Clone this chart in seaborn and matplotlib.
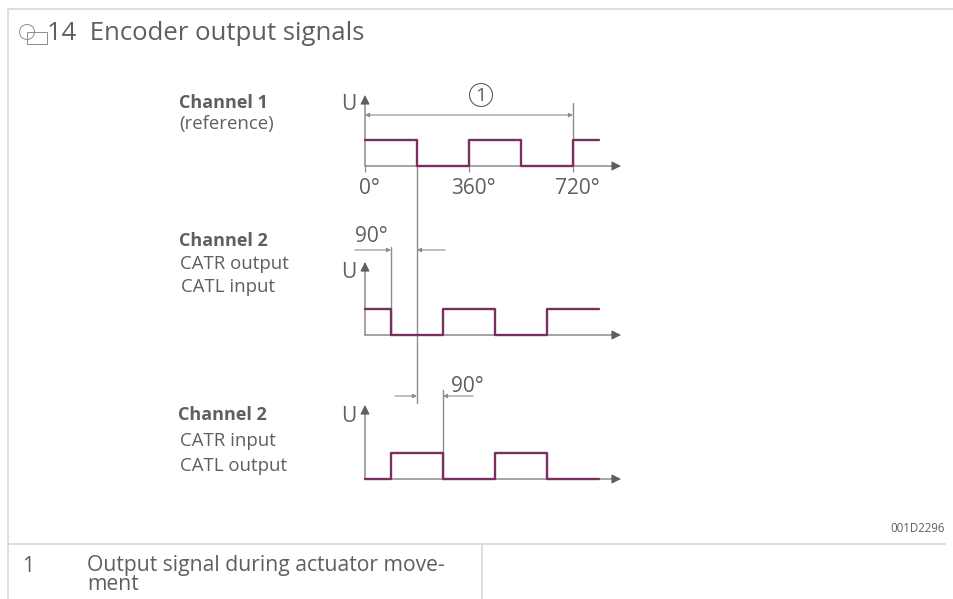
import matplotlib
matplotlib.use('Agg')
import matplotlib.pyplot as plt
from matplotlib.patches import Circle, Rectangle
from matplotlib.transforms import ScaledTranslation
import pandas as pd
import seaborn as sns

W, H = 954, 599
DEG_PX = 52 / 180
X0 = 365

title = '14  Encoder output signals'
angles_ref = [0, 180, 360, 540, 720, 810]
levels_ref = [1, 0, 1, 0, 1, 1]
angles_ch2 = [0, 90, 270, 450, 630, 810]
levels_ch2_out = [1, 0, 1, 0, 1, 1]
levels_ch2_in = [0, 1, 0, 1, 0, 0]
tick_angles = [0, 360, 720]
tick_labels = ['0°', '360°', '720°']

SIGNAL = '#7a2f5f'
TEXT = '#5f5f5f'
LINE = '#8c8c8c'
FRAME = '#d8d8d8'
FS_CAPTION = 13.4
FS_LABEL = 15

sns.set_theme(style='white')
plt.rcParams['font.family'] = ['Open Sans', 'Noto Sans', 'DejaVu Sans']

fig = plt.figure(figsize=(W / 100, H / 100), dpi=100)

# overlay in pixel coordinates for frame, labels and dimension lines
bg = fig.add_axes([0, 0, 1, 1])
bg.set_xlim(0, W)
bg.set_ylim(H, 0)
bg.axis('off')


def px(angle):
    return X0 + angle * DEG_PX


def signal_axes(angles, levels, y_low, y_top):
    # one axes per channel, 1 unit of level = 26 px
    right = 621
    ax = fig.add_axes([X0 / W, (H - y_low) / H, (right - X0) / W, (y_low - y_top) / H])
    ax.patch.set_alpha(0)
    ax.set_xlim(0, (right - X0) / DEG_PX)
    ax.set_ylim(0, (y_low - y_top) / 26)
    df = pd.DataFrame({'angle': angles, 'level': levels})
    sns.lineplot(data=df, x='angle', y='level', drawstyle='steps-post', color=SIGNAL,
                 linewidth=1.7, ax=ax, errorbar=None, estimator=None, clip_on=False, zorder=5)
    for s in ax.spines.values():
        s.set_visible(False)
    ax.set_xlabel('')
    ax.set_ylabel('')
    ax.set_yticks([])
    ax.set_xticks([])
    top = (y_low - y_top) / 26
    ax.annotate('', xy=(0, top), xytext=(0, 0),
                arrowprops=dict(arrowstyle='-|>', color=TEXT, lw=0.8, shrinkA=0, shrinkB=0, mutation_scale=14))
    ax.annotate('', xy=(ax.get_xlim()[1], 0), xytext=(0, 0),
                arrowprops=dict(arrowstyle='-|>', color=TEXT, lw=0.8, shrinkA=0, shrinkB=0, mutation_scale=14))
    return ax


ax1 = signal_axes(angles_ref, levels_ref, 166, 95)
ax1.set_xticks(tick_angles)
ax1.set_xticklabels(tick_labels, fontsize=FS_LABEL, color=TEXT)
ax1.tick_params(axis='x', length=4, width=0.8, color=LINE, pad=5, bottom=True)
shift = ScaledTranslation(3 / 72, 0, fig.dpi_scale_trans)
for lab in ax1.get_xticklabels():
    lab.set_transform(lab.get_transform() + shift)
signal_axes(angles_ch2, levels_ch2_out, 335, 262)
signal_axes(angles_ch2, levels_ch2_in, 479, 405)

# frame and table rules
bg.plot([8, 8], [H, 9], color=FRAME, lw=1.2)
bg.plot([8, W], [9, 9], color=FRAME, lw=1.2)
bg.plot([8, 945], [544, 544], color=FRAME, lw=1.2)
bg.plot([482, 482], [544, H], color=FRAME, lw=1.2)

# figure icon
bg.add_patch(Circle((27, 32), 7.5, fill=False, ec=LINE, lw=0.7))
bg.add_patch(Rectangle((27, 32), 20, 12, fill=False, ec=LINE, lw=0.7))

bg.text(47, 34, title, fontsize=18.5, color=TEXT, va='center', ha='left')

# channel captions
bg.text(179, 103, 'Channel 1', fontsize=13, color=TEXT, weight='bold', va='center')
bg.text(179, 124, '(reference)', fontsize=FS_CAPTION, color=TEXT, va='center')
bg.text(179, 241, 'Channel 2', fontsize=13, color=TEXT, weight='bold', va='center')
bg.text(180, 264, 'CATR output', fontsize=FS_CAPTION, color=TEXT, va='center')
bg.text(181, 287, 'CATL input', fontsize=FS_CAPTION, color=TEXT, va='center')
bg.text(178, 415, 'Channel 2', fontsize=13, color=TEXT, weight='bold', va='center')
bg.text(180, 441, 'CATR input', fontsize=FS_CAPTION, color=TEXT, va='center')
bg.text(180, 466, 'CATL output', fontsize=FS_CAPTION, color=TEXT, va='center')
for y in [103, 272, 415]:
    bg.text(349, y + 1, 'U', fontsize=FS_LABEL, color=TEXT, va='center', ha='center')

# reference verticals
bg.plot([px(180)] * 2, [166, 403], color=LINE, lw=1)
bg.plot([px(720)] * 2, [103, 166], color=LINE, lw=1)
bg.plot([px(90)] * 2, [247, 335], color=LINE, lw=1)
bg.plot([px(270)] * 2, [390, 479], color=LINE, lw=1)


def dim(x_from, x_to, y, style='-|>'):
    bg.annotate('', xy=(x_to, y), xytext=(x_from, y),
                arrowprops=dict(arrowstyle=style, color=LINE, lw=0.8, shrinkA=0, shrinkB=0, mutation_scale=6))


dim(px(0), px(720), 115, '<|-|>')
dim(355, px(90), 250)
dim(445, px(180), 250)
dim(395, px(180), 396)
dim(473, px(270), 396)

bg.add_patch(Circle((481, 95), 11.5, fill=False, ec=TEXT, lw=0.8))
bg.text(481, 96, '1', fontsize=FS_LABEL - 1, color=TEXT, ha='center', va='center')
bg.text(371, 236, '90°', fontsize=FS_LABEL, color=TEXT, ha='center', va='center')
bg.text(467, 386, '90°', fontsize=FS_LABEL, color=TEXT, ha='center', va='center')

bg.text(945, 528, '001D2296', fontsize=8.3, color=TEXT, ha='right', va='center')
bg.text(22, 566, '1', fontsize=15.2, color=TEXT, va='center')
bg.text(87, 566, 'Output signal during actuator move-', fontsize=15.2, color=TEXT, va='center')
bg.text(87, 585, 'ment', fontsize=15.2, color=TEXT, va='center')

fig.savefig('out.png', dpi=100)
